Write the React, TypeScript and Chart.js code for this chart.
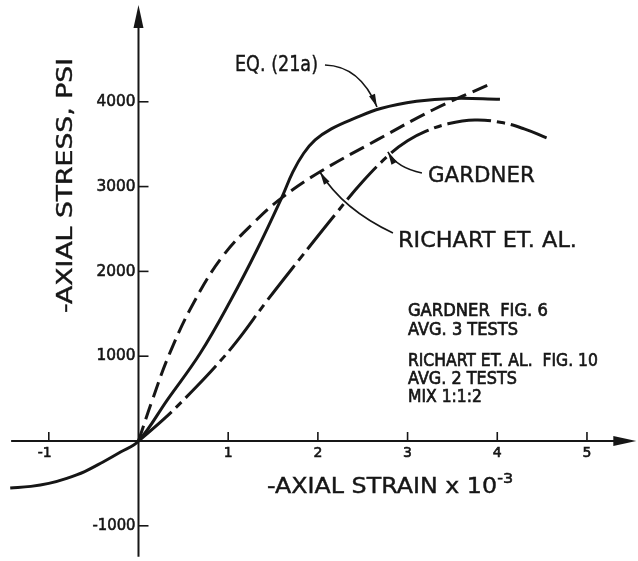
import React, { useEffect, useRef } from "react";
import { Chart, registerables } from "chart.js";

Chart.register(...registerables);

// ---- data (strain x 10^-3, stress psi) ----
const eqStrain = [-1.43, -1.2, -1.0, -0.8, -0.6, -0.4, -0.2, 0, 0.32, 0.69, 1.03, 1.32, 1.6, 1.72, 1.84, 1.97, 2.15, 2.4, 2.7, 3.1, 3.51, 4.03];
const eqStress = [-554, -535, -500, -440, -360, -250, -130, 0, 483, 1038, 1663, 2252, 2877, 3170, 3390, 3550, 3680, 3800, 3920, 4005, 4040, 4030];

const richartStrain = [0, 0.15, 0.35, 0.62, 0.94, 1.3, 1.6, 2.02, 2.66, 3.28, 3.9];
const richartStress = [0, 470, 1040, 1640, 2180, 2590, 2870, 3172, 3550, 3903, 4200];

const gardnerStrain = [0, 0.3, 0.6, 0.85, 1.1, 1.43, 1.8, 2.2, 2.5, 2.8, 3.0, 3.2, 3.45, 3.75, 4.05, 4.3, 4.55];
const gardnerStress = [0, 275, 590, 870, 1180, 1650, 2150, 2680, 3060, 3380, 3540, 3650, 3740, 3785, 3755, 3680, 3575];

const xTickValues = [-1, 1, 2, 3, 4, 5];
const xTickLabels = ["-1", "1", "2", "3", "4", "5"];
const yTickValues = [-1000, 1000, 2000, 3000, 4000];
const yTickLabels = ["-1000", "1000", "2000", "3000", "4000"];

const xTitle = "-AXIAL STRAIN x 10";
const xTitleSup = "-3";
const yTitle = "-AXIAL STRESS, PSI";

const curveLabels = ["EQ. (21a)", "GARDNER", "RICHART ET. AL."];
const notes = ["GARDNER  FIG. 6", "AVG. 3 TESTS", "RICHART ET. AL.  FIG. 10", "AVG. 2 TESTS", "MIX 1:1:2"];

// axis extents (data units)
const X_MIN = -1.544;
const X_MAX = 5.569;
const Y_MIN = -1415;
const Y_MAX = 5200;

const INK = "#161616";
const FONT = "'DejaVu Sans', 'Liberation Sans', sans-serif";

function toPts(xs: number[], ys: number[]) {
  return xs.map((x, i) => ({ x, y: ys[i] }));
}

function drawText(
  ctx: CanvasRenderingContext2D,
  text: string,
  x: number,
  y: number,
  size: number,
  width: number | null,
  align: CanvasTextAlign,
  rotate = 0,
  weight = 0.4
) {
  ctx.save();
  ctx.font = `${size}px ${FONT}`;
  const w = ctx.measureText(text).width;
  const sx = width ? width / w : 1;
  ctx.translate(x, y);
  if (rotate) ctx.rotate(rotate);
  ctx.scale(sx, 1);
  ctx.textAlign = align;
  ctx.textBaseline = "middle";
  ctx.fillStyle = INK;
  ctx.strokeStyle = INK;
  ctx.lineWidth = weight;
  ctx.fillText(text, 0, 0);
  if (weight > 0) ctx.strokeText(text, 0, 0);
  ctx.restore();
}

function arrowCurve(
  ctx: CanvasRenderingContext2D,
  p0: [number, number],
  c: [number, number],
  p1: [number, number]
) {
  ctx.save();
  ctx.strokeStyle = INK;
  ctx.fillStyle = INK;
  ctx.lineWidth = 1.6;
  ctx.beginPath();
  ctx.moveTo(p0[0], p0[1]);
  ctx.quadraticCurveTo(c[0], c[1], p1[0], p1[1]);
  ctx.stroke();
  const ang = Math.atan2(p1[1] - c[1], p1[0] - c[0]);
  const L = 13;
  const H = 3.2;
  ctx.beginPath();
  ctx.moveTo(p1[0], p1[1]);
  ctx.lineTo(p1[0] - L * Math.cos(ang) + H * Math.sin(ang), p1[1] - L * Math.sin(ang) - H * Math.cos(ang));
  ctx.lineTo(p1[0] - L * Math.cos(ang) - H * Math.sin(ang), p1[1] - L * Math.sin(ang) + H * Math.cos(ang));
  ctx.closePath();
  ctx.fill();
  ctx.restore();
}

const axesPlugin = {
  id: "crossAxes",
  beforeDatasetsDraw(chart: any) {
    const ctx: CanvasRenderingContext2D = chart.ctx;
    const xs = chart.scales.x;
    const ys = chart.scales.y;
    const px = (v: number) => xs.getPixelForValue(v);
    const py = (v: number) => ys.getPixelForValue(v);
    const ox = px(0);
    const oy = py(0);
    ctx.save();
    ctx.fillStyle = "#ffffff";
    ctx.fillRect(0, 0, chart.width, chart.height);
    ctx.strokeStyle = INK;
    ctx.fillStyle = INK;
    // x axis
    ctx.lineWidth = 2;
    const xEnd = px(5.55);
    ctx.beginPath();
    ctx.moveTo(px(-1.42), oy);
    ctx.lineTo(xEnd - 10, oy);
    ctx.stroke();
    ctx.beginPath();
    ctx.moveTo(xEnd, oy);
    ctx.lineTo(xEnd - 23, oy - 5);
    ctx.lineTo(xEnd - 23, oy + 5);
    ctx.closePath();
    ctx.fill();
    // y axis
    const yEnd = py(5140);
    ctx.beginPath();
    ctx.moveTo(ox, py(-1365));
    ctx.lineTo(ox, yEnd + 10);
    ctx.stroke();
    ctx.beginPath();
    ctx.moveTo(ox, yEnd);
    ctx.lineTo(ox - 5, yEnd + 23);
    ctx.lineTo(ox + 5, yEnd + 23);
    ctx.closePath();
    ctx.fill();
    // ticks
    ctx.lineWidth = 1.6;
    xTickValues.forEach((v) => {
      ctx.beginPath();
      ctx.moveTo(px(v), oy);
      ctx.lineTo(px(v), oy - 9);
      ctx.stroke();
    });
    yTickValues.forEach((v) => {
      ctx.beginPath();
      ctx.moveTo(ox, py(v));
      ctx.lineTo(ox + 10, py(v));
      ctx.stroke();
    });
    ctx.restore();
  },
  afterDatasetsDraw(chart: any) {
    const ctx: CanvasRenderingContext2D = chart.ctx;
    const xs = chart.scales.x;
    const ys = chart.scales.y;
    const px = (v: number) => xs.getPixelForValue(v);
    const py = (v: number) => ys.getPixelForValue(v);
    const P = (x: number, y: number): [number, number] => [px(x), py(y)];
    const ox = px(0);
    const oy = py(0);

    // tick labels
    xTickValues.forEach((v, i) => {
      const lbl = xTickLabels[i];
      drawText(ctx, lbl, px(v) + (lbl.startsWith("-") ? -4 : 0), oy + 12, 14, null, "center", 0, 0.6);
    });
    yTickValues.forEach((v, i) => {
      const lbl = yTickLabels[i];
      drawText(ctx, lbl, ox - 3, py(v), 16, lbl.length === 5 ? 43 : 39, "right", 0, 0.6);
    });

    // axis titles
    const [tx, ty] = P(1.433, -554);
    drawText(ctx, xTitle, tx, ty, 20.5, 230, "left");
    const [sx, sy] = P(4.0, -448);
    drawText(ctx, xTitleSup, sx, sy, 14, 16, "left", 0, 0.5);
    const [yx, yy] = P(-0.797, 3013);
    drawText(ctx, yTitle, yx, yy, 20.5, 255, "center", -Math.PI / 2);

    // curve labels
    let [lx, ly] = P(1.076, 4422);
    drawText(ctx, curveLabels[0], lx, ly, 20.5, 83, "left");
    [lx, ly] = P(3.227, 3125);
    drawText(ctx, curveLabels[1], lx, ly, 22, 107, "left");
    [lx, ly] = P(2.893, 2358);
    drawText(ctx, curveLabels[2], lx, ly, 22, 179, "left");

    // leader arrows
    arrowCurve(ctx, P(2.079, 4434), P(2.47, 4422), P(2.659, 3939));
    arrowCurve(ctx, P(3.16, 3160), P(2.882, 3219), P(2.78, 3408));
    arrowCurve(ctx, P(2.837, 2453), P(2.28, 2730), P(2.023, 3172));

    // notes
    const noteY = [1533, 1309, 943, 731, 514];
    const noteW = [140, 110, 190, 109, 74];
    notes.forEach((t, i) => {
      const [nx, ny] = P(3.004, noteY[i]);
      drawText(ctx, t, nx, ny, 17.5, noteW[i], "left", 0, 0.7);
    });
  },
};

export default function App() {
  const ref = useRef<HTMLCanvasElement | null>(null);
  useEffect(() => {
    if (!ref.current) return;
    const common = {
      borderColor: INK,
      borderWidth: 3,
      pointRadius: 0,
      tension: 0.4,
      fill: false,
    };
    const chart = new Chart(ref.current, {
      type: "line",
      data: {
        datasets: [
          { ...common, label: "EQ. (21a)", data: toPts(eqStrain, eqStress) },
          { ...common, label: "Richart et al.", data: toPts(richartStrain, richartStress), borderDash: [16, 7] },
          { ...common, label: "Gardner", data: toPts(gardnerStrain, gardnerStress), borderDash: [44, 6, 8, 6] },
        ],
      },
      options: {
        responsive: false,
        devicePixelRatio: 1,
        animation: false,
        layout: { padding: 0 },
        plugins: { legend: { display: false }, tooltip: { enabled: false } },
        scales: {
          x: { type: "linear", min: X_MIN, max: X_MAX, display: false },
          y: { type: "linear", min: Y_MIN, max: Y_MAX, display: false },
        },
      },
      plugins: [axesPlugin],
    } as any);
    return () => chart.destroy();
  }, []);
  return (
    <canvas
      ref={ref}
      width={638}
      height={561}
      style={{ position: "absolute", left: 0, top: 0, display: "block" }}
    />
  );
}
